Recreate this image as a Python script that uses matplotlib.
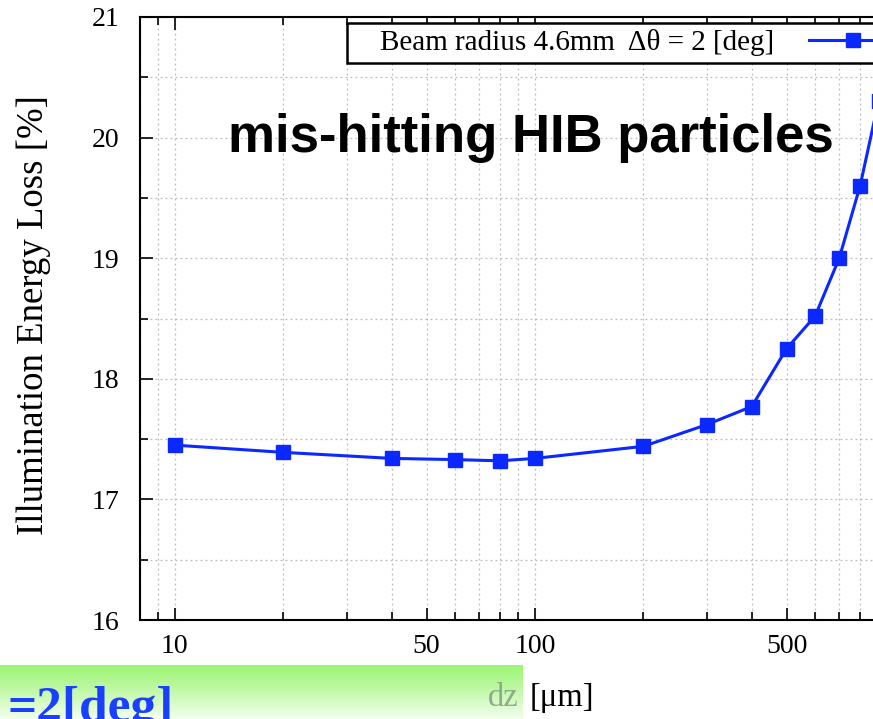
import matplotlib
matplotlib.use('Agg')
import matplotlib.pyplot as plt
import numpy as np
from matplotlib.patches import Rectangle
from matplotlib.ticker import FixedLocator, LogLocator, NullFormatter, MultipleLocator

# data
dz = [10, 20, 40, 60, 80, 100, 200, 300, 400, 500, 600, 700, 800, 900]
loss = [17.45, 17.39, 17.34, 17.33, 17.32, 17.34, 17.44, 17.62, 17.77,
        18.25, 18.52, 19.0, 19.6, 20.3]
xtick_vals = [10, 50, 100, 500]
ytick_vals = [16, 17, 18, 19, 20, 21]
series_label = 'Beam radius 4.6mm  \u0394\u03b8 = 2 [deg]'

W, H = 873, 719
serif = ['Liberation Serif', 'DejaVu Serif']

fig = plt.figure(figsize=(W / 100, H / 100), dpi=100)
ax = fig.add_axes([140 / W, 1 - 620 / H, 755 / W, 603 / H])

line, = ax.plot(dz, loss, color='#0a28ff', lw=2.2, marker='s', ms=10,
                label=series_label)

ax.set_xscale('log')
ax.set_xlim(8, 1000)
ax.set_ylim(16, 21)

ax.xaxis.set_major_locator(FixedLocator(xtick_vals))
ax.xaxis.set_minor_locator(LogLocator(base=10, subs=np.arange(2, 10)))
ax.xaxis.set_minor_formatter(NullFormatter())
ax.set_xticklabels([str(v) for v in xtick_vals])
ax.yaxis.set_major_locator(FixedLocator(ytick_vals))
ax.yaxis.set_minor_locator(MultipleLocator(0.5))

ax.tick_params(which='both', direction='in', top=True, right=True,
               labelsize=20, width=1.2)
ax.tick_params(which='major', length=9)
ax.tick_params(which='minor', length=6)
ax.tick_params(axis='x', which='major', pad=10)
ax.tick_params(axis='y', which='major', pad=15)
for lab in ax.get_xticklabels() + ax.get_yticklabels():
    lab.set_family(serif)

ax.grid(True, which='both', color='#bbbbbb', ls=(0, (1.5, 2.5)), lw=0.9)
for s in ax.spines.values():
    s.set_linewidth(1.5)

# legend box runs off the right edge like in the original
fig.add_artist(Rectangle((347 / W, 1 - 63 / H), (W - 347 + 30) / W, 40 / H,
                         transform=fig.transFigure, facecolor='white',
                         edgecolor='black', lw=1.8))
fig.legend(handles=[line], loc='upper left',
           bbox_to_anchor=(380 / W, 1 - 29 / H),
           prop={'family': serif, 'size': 21}, frameon=False,
           markerfirst=False, handlelength=3, handletextpad=1.2,
           borderpad=0, borderaxespad=0)

fig.text(34 / W, 1 - 315 / H, 'Illumination Energy Loss [%]', rotation=90,
         ha='center', va='center', family=serif, fontsize=26.5)

fig.text(228 / W, 1 - 152 / H, 'mis-hitting HIB particles',
         family=['Liberation Sans', 'DejaVu Sans'], fontweight='bold',
         fontsize=38, ha='left', va='baseline', color='black')

# green overlay box at the bottom left
gax = fig.add_axes([0, 0, 523 / W, 54 / H])
grad = np.linspace(0, 1, 54)[:, None]
top = np.array([0.62, 0.96, 0.46])
mid = np.array([0.72, 0.97, 0.60])
bot = np.array([0.95, 1.0, 0.93])
img = np.where(grad[..., None] < 0.35,
               top + (mid - top) * (grad[..., None] / 0.35),
               mid + (bot - mid) * ((grad[..., None] - 0.35) / 0.65))
img = np.repeat(img, 2, axis=1)
gax.imshow(img, aspect='auto', extent=[0, 1, 0, 1])
gax.axis('off')
fig.text(7 / W, -2 / H, '=2[deg]', family=serif, fontweight='bold', fontsize=37,
         color='#1a40ff', ha='left', va='baseline')

fig.text(488 / W, 1 - 706 / H, 'dz', family=serif, fontsize=23.5,
         color='#8fa98c', ha='left', va='baseline')
fig.text(530 / W, 1 - 706 / H, '[\u03bcm]', family=serif, fontsize=23.5,
         color='black', ha='left', va='baseline')

fig.savefig('out.png', dpi=100)
